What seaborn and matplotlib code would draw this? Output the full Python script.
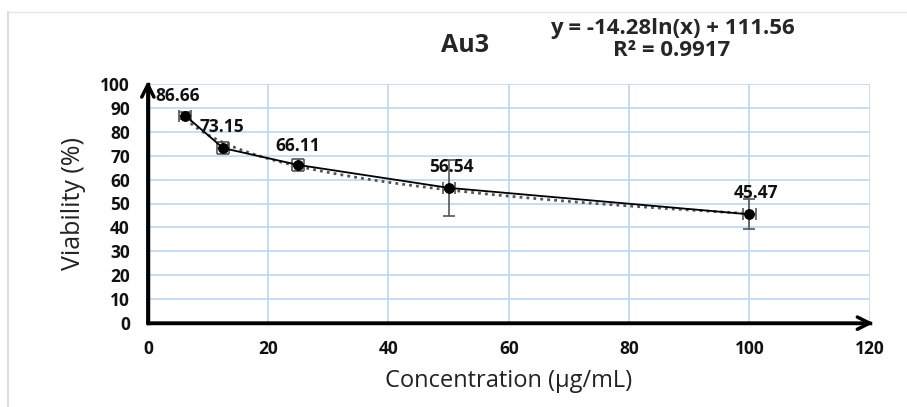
import numpy as np
import pandas as pd
import matplotlib
matplotlib.use("Agg")
import matplotlib.pyplot as plt
import seaborn as sns
from matplotlib.lines import Line2D

# data
conc = [6.25, 12.5, 25, 50, 100]
viability = [86.66, 73.15, 66.11, 56.54, 45.47]
y_err = [1.5, 2.5, 2.5, 11.7, 6.3]
x_err = [1.0, 1.0, 1.0, 1.0, 1.0]
point_labels = ["86.66", "73.15", "66.11", "56.54", "45.47"]
label_offsets = [(-5.0, 8.3), (-0.2, 8.9), (-0.1, 7.9), (0.4, 8.8), (1.0, 8.9)]

df = pd.DataFrame({"conc": conc, "viability": viability})

sns.set_theme(style="white")
plt.rcParams["font.family"] = ["Open Sans", "DejaVu Sans"]

fig = plt.figure(figsize=(9.07, 4.07), dpi=100)
ax = fig.add_axes([0.163, 0.206, 0.796, 0.588])

# trend line (log fit), dotted
sns.regplot(data=df, x="conc", y="viability", logx=True, ci=None, scatter=False,
            ax=ax, line_kws=dict(color="#555555", lw=2, ls=(0, (1, 1.5)), zorder=2))
ax.errorbar(conc, viability, yerr=y_err, xerr=x_err, fmt="none",
            ecolor="#555555", elinewidth=1.2, capsize=4, capthick=1.2, zorder=2)
# data line
sns.lineplot(data=df, x="conc", y="viability", ax=ax, color="black", lw=1.3,
             marker="o", markersize=7, markeredgecolor="black", zorder=3)

for i, (xv, yv, lab) in enumerate(zip(conc, viability, point_labels)):
    dx, dy = label_offsets[i]
    ax.text(xv + dx, yv + dy, lab, fontsize=12.5, fontweight="bold", color="#111111",
            ha="left" if i == 0 else "center", va="center")

ax.set_xlim(0, 120)
ax.set_ylim(0, 100)
ax.set_xticks(range(0, 121, 20))
ax.set_yticks(range(0, 101, 10))
ax.grid(True, color="#BDD7EE", lw=1.2)
ax.set_axisbelow(True)

for s in ["top", "right"]:
    ax.spines[s].set_visible(False)
for s in ["left", "bottom"]:
    ax.spines[s].set_color("black")
    ax.spines[s].set_linewidth(2.5)

ax.tick_params(axis="both", direction="in", length=5, width=2.5, color="black",
               labelsize=12.5)
ax.tick_params(axis="x", pad=12)
ax.tick_params(axis="y", pad=13)
for t in ax.get_xticklabels() + ax.get_yticklabels():
    t.set_fontweight("bold")
    t.set_color("#111111")

ax.set_xlabel("Concentration (μg/mL)", fontsize=17, color="#222222", labelpad=8)
ax.set_ylabel("Viability (%)", fontsize=18, color="#222222", labelpad=10)

# arrow heads on the axes
ax.annotate("", xy=(0, 1.012), xytext=(0, 0), xycoords="axes fraction",
            arrowprops=dict(arrowstyle="->", color="black", lw=2.5, mutation_scale=22,
                            shrinkA=0, shrinkB=0))
ax.annotate("", xy=(1.005, 0), xytext=(0, 0), xycoords="axes fraction",
            arrowprops=dict(arrowstyle="->", color="black", lw=2.5, mutation_scale=22,
                            shrinkA=0, shrinkB=0))

fig.text(0.513, 0.888, "Au3", fontsize=18, fontweight="bold", ha="center", va="center")
fig.text(0.741, 0.93, "y = -14.28ln(x) + 111.56", fontsize=16, fontweight="bold",
         ha="center", va="center")
fig.text(0.741, 0.875, "R² = 0.9917", fontsize=16, fontweight="bold",
         ha="center", va="center")

# faint spreadsheet cell borders
fig.add_artist(Line2D([0.009, 0.009], [0, 0.97], color="#DDDDDD", lw=1.5,
                      transform=fig.transFigure))
fig.add_artist(Line2D([0.009, 1], [0.97, 0.97], color="#E6E6E6", lw=1,
                      transform=fig.transFigure))

fig.savefig("out.png", dpi=100)
